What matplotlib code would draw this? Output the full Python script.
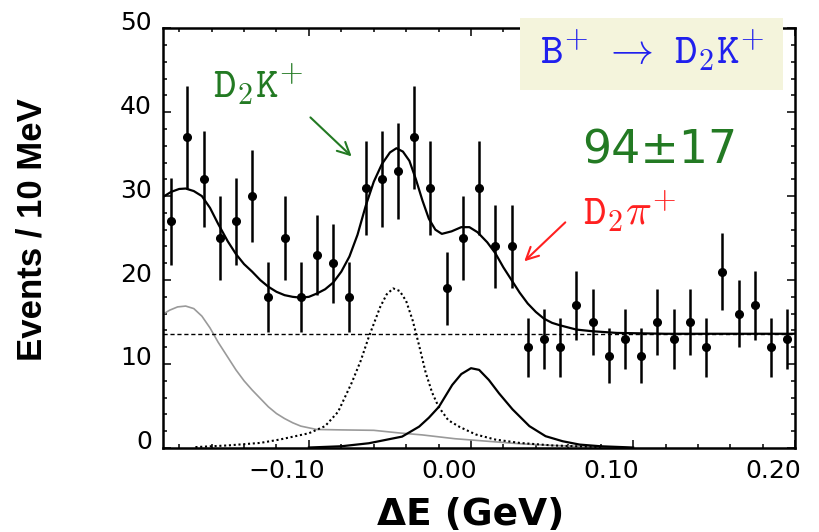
import numpy as np
import matplotlib.pyplot as plt
import matplotlib.transforms as mtransforms
from matplotlib.patches import Rectangle
from matplotlib.ticker import MultipleLocator

plt.rcParams['mathtext.fontset'] = 'cm'

# 10 MeV bins from -0.19 to 0.20 GeV
bin_centers = np.linspace(-0.185, 0.195, 39)
events = [27, 37, 32, 25, 27, 30, 18, 25, 18, 23,
          22, 18, 31, 32, 33, 37, 31, 19, 25, 31,
          24, 24, 12, 13, 12, 17, 15, 11, 13, 11,
          15, 13, 15, 12, 21, 16, 17, 12, 13]
errors = [5.2, 6.1, 5.7, 5.0, 5.2, 5.5, 4.2, 5.0, 4.2, 4.8,
          4.7, 4.2, 5.6, 5.7, 5.7, 6.1, 5.6, 4.4, 5.0, 5.6,
          4.9, 4.9, 3.5, 3.6, 3.5, 4.1, 3.9, 3.3, 3.6, 3.3,
          3.9, 3.6, 3.9, 3.5, 4.6, 4.0, 4.1, 3.5, 3.6]

# fit curves
total_x = [-0.190, -0.185, -0.180, -0.176, -0.171, -0.166, -0.161, -0.156, -0.150,
           -0.145, -0.140, -0.135, -0.130, -0.125, -0.120, -0.115, -0.110, -0.105,
           -0.100, -0.095, -0.090, -0.085, -0.080, -0.075, -0.070, -0.065, -0.060,
           -0.055, -0.050, -0.046, -0.042, -0.038, -0.034, -0.030, -0.026, -0.022,
           -0.018, -0.012, -0.006, -0.001, 0.004, 0.010, 0.015, 0.020, 0.025, 0.030,
           0.035, 0.040, 0.045, 0.050, 0.055, 0.065, 0.075, 0.090, 0.120, 0.160, 0.200]
total_y = [29.9, 30.5, 30.85, 30.9, 30.6, 30.0, 28.6, 26.7, 24.6,
           23.1, 21.9, 21.0, 20.0, 19.2, 18.6, 18.2, 18.0, 17.9,
           18.0, 18.4, 18.9, 19.7, 21.0, 22.8, 25.4, 28.8, 31.7,
           33.8, 35.2, 35.7, 35.3, 34.2, 32.0, 29.5, 27.3, 26.0,
           25.5, 25.8, 26.3, 26.3, 25.7, 24.5, 23.2, 21.5, 20.0, 18.5,
           17.2, 16.2, 15.4, 14.9, 14.6, 14.1, 13.9, 13.7, 13.6, 13.6, 13.6]

d2k_x = [-0.170, -0.150, -0.130, -0.118, -0.100, -0.090, -0.082, -0.0735, -0.068,
         -0.063, -0.056, -0.052, -0.048, -0.044, -0.040, -0.036, -0.032, -0.028,
         -0.024, -0.020, -0.014, -0.007, 0.003, 0.015, 0.030, 0.050, 0.080]
d2k_y = [0.1, 0.3, 0.6, 1.0, 1.75, 2.6, 4.3, 7.8, 10.4,
         13.25, 16.8, 18.3, 19.0, 18.7, 17.5, 15.2, 12.2, 9.0,
         6.6, 4.9, 3.3, 2.5, 1.6, 1.0, 0.6, 0.3, 0.1]

d2pi_x = [-0.100, -0.080, -0.063, -0.0425, -0.032, -0.026, -0.0198, -0.0116, -0.006,
          0.000, 0.005, 0.011, 0.0173, 0.0256, 0.036, 0.046, 0.0565, 0.067, 0.080, 0.100]
d2pi_y = [0.05, 0.2, 0.56, 1.35, 2.54, 3.6, 4.9, 7.5, 8.8,
          9.5, 9.3, 8.1, 6.5, 4.6, 2.6, 1.4, 0.8, 0.4, 0.2, 0.05]

other_x = [-0.191, -0.186, -0.181, -0.176, -0.171, -0.166, -0.161, -0.156, -0.150,
           -0.145, -0.140, -0.135, -0.130, -0.125, -0.120, -0.115, -0.110, -0.105,
           -0.0952, -0.080, -0.060, -0.045, -0.030, -0.010, 0.010, 0.030, 0.050,
           0.080, 0.100]
other_y = [15.8, 16.4, 16.8, 16.9, 16.6, 15.7, 14.3, 12.6, 10.8,
           9.3, 8.0, 6.9, 5.9, 4.9, 4.1, 3.5, 3.0, 2.6,
           2.2, 2.15, 2.1, 1.8, 1.55, 1.1, 0.8, 0.5, 0.3,
           0.1, 0.0]

bkg_level = 13.6

fig = plt.figure(figsize=(8.19, 5.32), dpi=100)
ax = fig.add_axes([0.199, 0.158, 0.772, 0.789])

ax.plot(other_x, other_y, color='#9a9a9a', lw=1.2)
ax.axhline(bkg_level, color='black', lw=1.0, ls=(0, (3, 2)))
ax.plot(d2k_x, d2k_y, color='black', lw=1.5, ls=(0, (1, 1.3)))
ax.plot(d2pi_x, d2pi_y, color='black', lw=1.6)
ax.plot(total_x, total_y, color='black', lw=1.6)
ax.errorbar(bin_centers, events, yerr=errors, fmt='o', color='black',
            ms=5.5, elinewidth=1.8, capsize=0)

ax.set_xlim(-0.19, 0.20)
ax.set_ylim(0, 50)
ax.xaxis.set_major_locator(MultipleLocator(0.1))
ax.xaxis.set_minor_locator(MultipleLocator(0.02))
ax.yaxis.set_major_locator(MultipleLocator(10))
ax.yaxis.set_minor_locator(MultipleLocator(2))
ax.set_xticks([-0.1, 0.0, 0.1, 0.2])
ax.set_xticklabels(['\u22120.10', '0.00', '0.10', '0.20'])
ax.tick_params(which='both', direction='in', top=True, right=True, width=1.1)
ax.tick_params(which='major', length=6, labelsize=18, pad=8)
ax.tick_params(which='minor', length=3)
for s in ax.spines.values():
    s.set_linewidth(1.8)

# labels in the original sit a little off their ticks
dx = mtransforms.ScaledTranslation(-0.22, 0, fig.dpi_scale_trans)
for lab in ax.get_xticklabels():
    lab.set_transform(lab.get_transform() + dx)
dy = mtransforms.ScaledTranslation(0, 0.08, fig.dpi_scale_trans)
for lab in ax.get_yticklabels():
    lab.set_transform(lab.get_transform() + dy)

ax.set_xlabel('\u0394E (GeV)', fontsize=27, fontweight='bold', family='DejaVu Sans')
ax.xaxis.label.set_verticalalignment('center')
ax.xaxis.set_label_coords(0.486, -0.16)
ax.set_ylabel('Events / 10 MeV', fontsize=25, fontweight='bold', family='Liberation Sans')
ax.yaxis.label.set_verticalalignment('center')
ax.yaxis.set_label_coords(-0.207, 0.52)

green = '#237a23'
ax.text(-0.159, 41.7, r'$\mathtt{D_2K}^{+}$', color=green, fontsize=31)
ax.annotate('', xy=(-0.0724, 34.5), xytext=(-0.1003, 39.6),
            arrowprops=dict(arrowstyle='->', color=green, lw=1.5, mutation_scale=22))
ax.text(0.1165, 33.9, '94\u00b117', color=green, fontsize=33, ha='center',
        family='DejaVu Sans')
ax.text(0.069, 26.5, r'$\mathtt{D_2}\pi^{+}$', color='#ff2020', fontsize=31)
ax.annotate('', xy=(0.0316, 22.0), xytext=(0.0594, 27.1),
            arrowprops=dict(arrowstyle='->', color='#ff2020', lw=1.5, mutation_scale=22))

box = Rectangle((0.635, 0.831), 0.321, 0.135, transform=fig.transFigure,
                facecolor='#f4f4dc', edgecolor='none', zorder=5)
fig.add_artist(box)
fig.text(0.796, 0.905, r'$\mathtt{B}^{+}\ \rightarrow\ \mathtt{D_2K}^{+}$',
         color='#2020ee', fontsize=31, ha='center', va='center', zorder=6)

fig.savefig('out.png', dpi=100)
